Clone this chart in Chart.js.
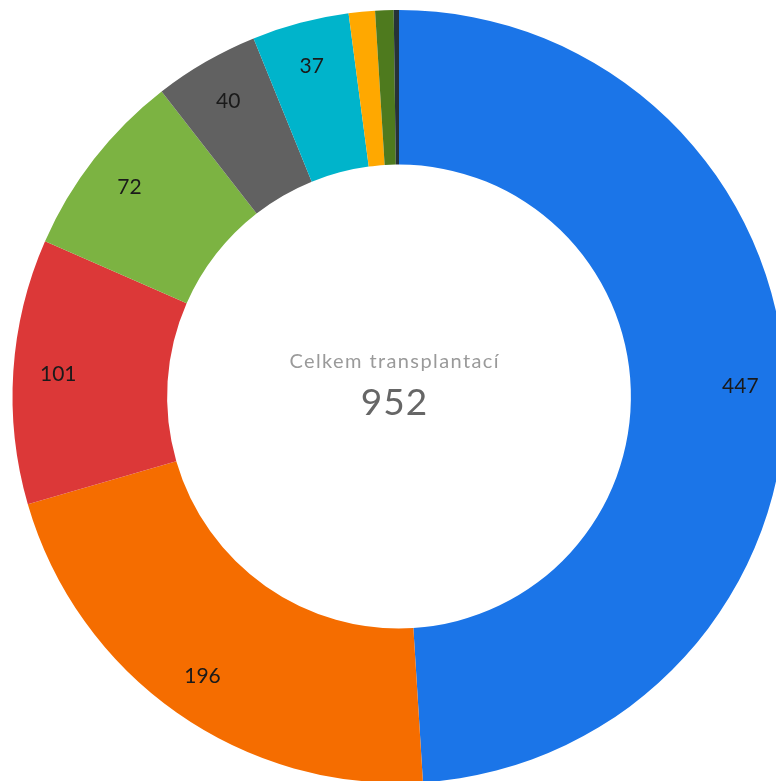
<!DOCTYPE html>
<html>
<head>
<meta charset="utf-8">
<script src="https://cdn.jsdelivr.net/npm/chart.js@4/dist/chart.umd.min.js"></script>
<style>
html,body{margin:0;padding:0;background:#fff;overflow:hidden;width:776px;height:781px;}
#wrap{position:absolute;left:0;top:0;width:798px;height:793px;}
</style>
</head>
<body>
<div id="wrap"><canvas id="c"></canvas></div>
<script>
const categories = ["A","B","C","D","E","F","G","H","I"];
const values = [447, 196, 101, 72, 40, 37, 10, 7, 2];
const colors = ["#1B75E8","#F56D00","#DC3838","#7CB342","#616161","#00B4CB","#FFA800","#4E7A1E","#263238"];
const centerTitle = "Celkem transplantací";
const centerValue = "952";

const FONT = "Lato, 'Open Sans', sans-serif";

const labelPlugin = {
  id: 'labelPlugin',
  afterDatasetsDraw(chart) {
    const ctx = chart.ctx;
    const meta = chart.getDatasetMeta(0);
    ctx.save();
    ctx.textAlign = 'center';
    ctx.textBaseline = 'middle';
    ctx.fillStyle = '#1a1a1a';
    ctx.font = '21px ' + FONT;
    meta.data.forEach((arc, i) => {
      const v = values[i];
      if (v < 20) return;
      const p = arc.getProps(['x','y','startAngle','endAngle','outerRadius'], true);
      const mid = (p.startAngle + p.endAngle) / 2;
      const r = p.outerRadius - 45;
      ctx.fillText(String(v), p.x + Math.cos(mid) * r, p.y + Math.sin(mid) * r);
    });
    // center text
    const cx = meta.data[0].x - 5;
    const cy = meta.data[0].y;
    ctx.fillStyle = '#9a9a9a';
    ctx.font = '20px ' + FONT;
    if ('letterSpacing' in ctx) ctx.letterSpacing = '1.4px';
    ctx.fillText(centerTitle, cx + 0.7, cy - 35);
    if ('letterSpacing' in ctx) ctx.letterSpacing = '1px';
    ctx.fillStyle = '#666666';
    ctx.font = '37px ' + FONT;
    ctx.fillText(centerValue, cx + 0.5, cy + 7);
    ctx.restore();
  }
};

new Chart(document.getElementById('c'), {
  type: 'doughnut',
  data: {
    labels: categories,
    datasets: [{
      data: values,
      backgroundColor: colors,
      borderWidth: 0,
      hoverOffset: 0
    }]
  },
  options: {
    responsive: true,
    maintainAspectRatio: false,
    animation: false,
    cutout: '60%',
    layout: { padding: 10 },
    plugins: {
      legend: { display: false },
      tooltip: { enabled: false }
    },
    events: []
  },
  plugins: [labelPlugin]
});
</script>
</body>
</html>
